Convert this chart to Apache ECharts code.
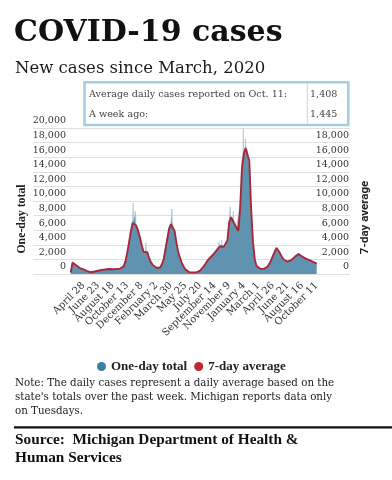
<!DOCTYPE html>
<html><head><meta charset="utf-8">
<script src="https://cdn.jsdelivr.net/npm/echarts@6/dist/echarts.min.js"></script>
<style>html,body{margin:0;padding:0;background:#fff}#c{width:392px;height:480px}</style>
</head><body><div id="c"></div>
<script>
// Tick labels on the x axis (every 8 weeks, starting April 28, 2020)
const xTickLabels = ['April 28','June 23','August 18','October 13','December 8','February 2','March 30','May 25','July 20','September 14','November 9','January 4','March 1','April 26','June 21','August 16','October 11'];
// Weekly values (Tuesdays) from March 10, 2020 to October 11, 2022
const sevenDayAvg = [
  200,1550,1500,1200,980,820,700,620,500,400,
  290,240,280,340,400,450,500,550,600,630,
  660,680,650,660,640,680,700,740,820,1000,
  1700,2900,4300,5800,7000,7100,6600,5900,5000,3900,
  3000,3200,3000,2200,1600,1250,1000,860,800,850,
  1300,2000,3400,4800,6200,6800,7000,5900,4300,3000,
  2200,1500,1000,600,380,260,220,200,200,220,
  280,450,720,1050,1400,1800,2100,2350,2600,2850,
  3200,3500,3800,4000,3700,3800,4600,7100,7800,7300,
  6800,6300,5900,9000,14500,16500,17200,17000,15500,9000,
  4500,2000,1100,850,720,690,700,800,1000,1400,
  1900,2500,3100,3550,3300,2800,2300,1950,1800,1700,
  1700,1900,2150,2350,2500,2750,2600,2400,2250,2100,
  2000,1900,1780,1650,1445,1408
];
const oneDayTotal = [
  250,1700,1450,1250,950,850,680,640,480,420,
  300,230,300,330,420,440,520,540,620,610,
  690,660,680,640,670,690,720,760,850,1050,
  1800,3000,4500,6000,7300,7400,6800,6000,5100,3800,
  2900,3300,2900,2100,1650,1200,1050,820,830,900,
  1400,2100,3600,5000,6500,7100,7200,5800,4200,2900,
  2100,1450,950,580,360,250,210,190,210,230,
  300,480,760,1100,1450,1900,2200,2500,2700,3000,
  3400,3700,3900,4100,3600,3900,4700,7400,8000,7500,
  6900,6200,6000,9500,15500,17000,17600,16800,14800,8500,
  4200,1900,1050,800,700,720,680,820,1050,1450,
  2000,2600,3200,3650,3300,2750,2250,1900,1850,1650,
  1750,1950,2200,2400,2600,2800,2550,2450,2200,2150,
  1950,1900,1750,1600,1450,1400
];
// Single-day reporting spikes: [day since March 3, 2020, cases]
const oneDaySpikes = [
  [246,7320],[247,9700],[248,7330],
  [255,7100],[256,8600],[257,7000],
  [295,3250],[296,4300],[297,3200],
  [395,7100],[396,8900],[397,7100],
  [576,3750],[577,4400],[578,3800],
  [586,3950],[587,4600],
  [619,7600],[620,9200],[621,7750],
  [631,7400],[632,8600],[633,7300],
  [669,16200],[670,19900],[671,16600],
  [677,17300],[678,18500]
];
const infoRows = [['Average daily cases reported on Oct. 11:','1,408'],['A week ago:','1,445']];
const noteLines = ['Note: The daily cases represent a daily average based on the',"state's totals over the past week. Michigan reports data only",'on Tuesdays.'];
const sourceLines = ['Source:  Michigan Department of Health &','Human Services'];

const SERIF = "'DejaVu Serif', serif";
const BSERIF = "'Liberation Serif', serif";

const weekDay = i => 7 + 7 * i;
const avgPoints = sevenDayAvg.map((v, i) => [weekDay(i), v]);
const dayPoints = oneDayTotal.map((v, i) => [weekDay(i), v]).concat(oneDaySpikes).sort((a, b) => a[0] - b[0]);

const chart = echarts.init(document.getElementById('c'), null, {renderer: 'canvas'});
const yLabel = {
  inside: true, fontFamily: SERIF, fontSize: 9.5, color: '#333', verticalAlign: 'bottom', padding: [0, 0, 2, 0],
  formatter: v => v.toLocaleString('en-US')
};
chart.setOption({
  animation: false,
  backgroundColor: '#fff',
  grid: [
    {left: 33, right: 42, top: 128, bottom: 206},
    {left: 68.9, right: 75.3, top: 128, bottom: 206}
  ],
  legend: {
    left: 92, top: 355, icon: 'circle', itemWidth: 9, itemHeight: 9, itemGap: 7,
    textStyle: {fontFamily: BSERIF, fontWeight: 'bold', fontSize: 13, color: '#222'},
    data: ['One-day total', '7-day average']
  },
  xAxis: [
    {type: 'value', gridIndex: 0, min: 0, max: 1, show: false},
    {type: 'value', gridIndex: 1, min: 0, max: 952, interval: 56,
      axisLine: {show: false}, axisTick: {show: false}, splitLine: {show: false},
      axisLabel: {rotate: 45, margin: 10, fontFamily: SERIF, fontSize: 10, color: '#333',
        showMinLabel: true, showMaxLabel: true, hideOverlap: false,
        formatter: v => (v > 0 ? (xTickLabels[v / 56 - 1] || '') : '')}}
  ],
  yAxis: [
    {type: 'value', gridIndex: 0, position: 'left', min: 0, max: 20000, interval: 2000,
      axisLine: {show: false}, axisTick: {show: false},
      splitLine: {lineStyle: {color: '#e0e0e0', width: 1}},
      axisLabel: Object.assign({}, yLabel, {margin: 33, align: 'right'})},
    {type: 'value', gridIndex: 0, position: 'right', min: 0, max: 20000, interval: 2000,
      axisLine: {show: false}, axisTick: {show: false}, splitLine: {show: false},
      axisLabel: Object.assign({}, yLabel, {margin: 1, align: 'right'})},
    {type: 'value', gridIndex: 1, min: 0, max: 20000, show: false}
  ],
  series: [
    {name: 'One-day total', type: 'line', xAxisIndex: 1, yAxisIndex: 2, data: dayPoints,
      showSymbol: false, symbol: 'none', z: 2,
      itemStyle: {color: '#3f7ea8'},
      lineStyle: {color: '#b3ccdb', width: 0.8},
      areaStyle: {color: '#6093af', opacity: 1}},
    {name: '7-day average', type: 'line', xAxisIndex: 1, yAxisIndex: 2, data: avgPoints,
      showSymbol: false, symbol: 'none', z: 3,
      itemStyle: {color: '#c1272d'},
      lineStyle: {color: '#a8273a', width: 1.9}}
  ],
  graphic: [
    {type: 'text', x: 14, y: 33.5, z: 100, style: {text: 'COVID-19 cases', fontFamily: SERIF, fontWeight: 'bold', fontSize: 30, fill: '#111', verticalAlign: 'middle'}},
    {type: 'text', x: 15, y: 69, z: 100, style: {text: 'New cases since March, 2020', fontFamily: SERIF, fontSize: 16.5, fill: '#1a1a1a', verticalAlign: 'middle'}},
    {type: 'rect', z: 100, shape: {x: 84.5, y: 82.3, width: 263.8, height: 42.7}, style: {fill: '#fff', stroke: '#a6cde2', lineWidth: 2.6}},
    {type: 'line', z: 101, shape: {x1: 307.3, y1: 83.6, x2: 307.3, y2: 123.7}, style: {stroke: '#d4d4d4', lineWidth: 1}},
    {type: 'text', x: 89, y: 94.5, z: 101, style: {text: infoRows[0][0], fontFamily: SERIF, fontSize: 9.6, fill: '#444', verticalAlign: 'middle'}},
    {type: 'text', x: 310, y: 94.5, z: 101, style: {text: infoRows[0][1], fontFamily: SERIF, fontSize: 9.6, fill: '#444', verticalAlign: 'middle'}},
    {type: 'text', x: 89, y: 114, z: 101, style: {text: infoRows[1][0], fontFamily: SERIF, fontSize: 9.6, fill: '#444', verticalAlign: 'middle'}},
    {type: 'text', x: 310, y: 114, z: 101, style: {text: infoRows[1][1], fontFamily: SERIF, fontSize: 9.6, fill: '#444', verticalAlign: 'middle'}},
    {type: 'text', x: 22, y: 219, rotation: Math.PI / 2, z: 100, style: {text: 'One-day total', fontFamily: BSERIF, fontWeight: 'bold', fontSize: 11.8, fill: '#222', align: 'center', verticalAlign: 'middle'}},
    {type: 'text', x: 365, y: 217.5, rotation: Math.PI / 2, z: 100, style: {text: '7-day average', fontFamily: 'Roboto, sans-serif', fontWeight: 'bold', fontSize: 11.5, fill: '#222', align: 'center', verticalAlign: 'middle'}},
    {type: 'text', x: 15, y: 383, z: 100, style: {text: noteLines[0], fontFamily: SERIF, fontSize: 10.3, fill: '#222', verticalAlign: 'middle'}},
    {type: 'text', x: 15, y: 397.3, z: 100, style: {text: noteLines[1], fontFamily: SERIF, fontSize: 10.3, fill: '#222', verticalAlign: 'middle'}},
    {type: 'text', x: 15, y: 411.6, z: 100, style: {text: noteLines[2], fontFamily: SERIF, fontSize: 10.3, fill: '#222', verticalAlign: 'middle'}},
    {type: 'line', z: 100, shape: {x1: 14, y1: 427.4, x2: 392, y2: 427.4}, style: {stroke: '#111', lineWidth: 2.4}},
    {type: 'text', x: 15, y: 440, z: 100, style: {text: sourceLines[0], fontFamily: BSERIF, fontWeight: 'bold', fontSize: 15.3, fill: '#111', verticalAlign: 'middle'}},
    {type: 'text', x: 15, y: 458.3, z: 100, style: {text: sourceLines[1], fontFamily: BSERIF, fontWeight: 'bold', fontSize: 15.3, fill: '#111', verticalAlign: 'middle'}}
  ]
});
</script>
</body></html>
